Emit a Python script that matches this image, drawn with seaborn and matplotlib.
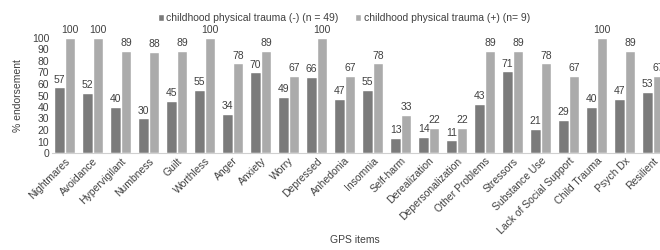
import pandas as pd
import matplotlib
matplotlib.use("Agg")
import matplotlib.pyplot as plt
import seaborn as sns

# ============================================================
# DATA
# ============================================================
items = [
    "Nightmares", "Avoidance", "Hypervigilant", "Numbness", "Guilt",
    "Worthless", "Anger", "Anxiety", "Worry", "Depressed", "Anhedonia",
    "Insomnia", "Self-harm", "Derealization", "Depersonalization",
    "Other Problems", "Stressors", "Substance Use",
    "Lack of Social Support", "Child Trauma", "Psych Dx", "Resilient",
]
trauma_neg = [57, 52, 40, 30, 45, 55, 34, 70, 49, 66, 47,
              55, 13, 14, 11, 43, 71, 21, 29, 40, 47, 53]
trauma_pos = [100, 100, 89, 88, 89, 100, 78, 89, 67, 100, 67,
              78, 33, 22, 22, 89, 89, 78, 67, 100, 89, 67]
groups = ["childhood physical trauma (-) (n = 49)",
          "childhood physical trauma (+) (n= 9)"]

df = pd.DataFrame({
    "item": items * 2,
    "group": [groups[0]] * len(items) + [groups[1]] * len(items),
    "pct": trauma_neg + trauma_pos,
})

sns.set_theme(style="white")
plt.rcParams["font.family"] = ["Liberation Sans", "DejaVu Sans"]
TXT = "#404040"
COLORS = ["#7b7b7b", "#ababab"]

fig = plt.figure(figsize=(6.6, 2.5), dpi=100)
ax = fig.add_axes([52 / 660, 1 - 153 / 250, 1 - 52 / 660, 115 / 250])

sns.barplot(data=df, x="item", y="pct", hue="group", palette=COLORS,
            width=0.75, ax=ax, saturation=1, legend=True)

for cont in ax.containers:
    lbls = ax.bar_label(cont, fontsize=7.5, color=TXT, padding=2)
    for t in lbls:
        t.set_clip_on(False)

ax.set_ylim(0, 100)
ax.set_yticks(range(0, 101, 10))
ax.set_xlim(-0.45, 21.25)
ax.tick_params(axis="y", labelsize=7.5, labelcolor=TXT, length=0, pad=2)
ax.tick_params(axis="x", labelsize=7.5, labelcolor=TXT, length=0, pad=2)
plt.setp(ax.get_xticklabels(), rotation=45, ha="right", rotation_mode="anchor")

for s in ["top", "right", "left"]:
    ax.spines[s].set_visible(False)
ax.spines["bottom"].set_color("#d0d0d0")
ax.spines["bottom"].set_linewidth(0.8)

ax.set_ylabel("% endorsement", fontsize=7.5, color=TXT)
ax.yaxis.set_label_coords(-0.047, 0.5)
ax.set_xlabel("GPS items", fontsize=7.5, color=TXT)
ax.xaxis.set_label_coords((355 - 52) / 608, -0.71)

ax.legend(title=None, loc="center", bbox_to_anchor=(0.48, 1.17), ncol=2,
          frameon=False, fontsize=7.5, handlelength=0.6, handleheight=0.6,
          handletextpad=0.2, columnspacing=1.6, labelcolor=TXT,
          borderpad=0)

fig.savefig("out.png", dpi=100)
plt.close(fig)
